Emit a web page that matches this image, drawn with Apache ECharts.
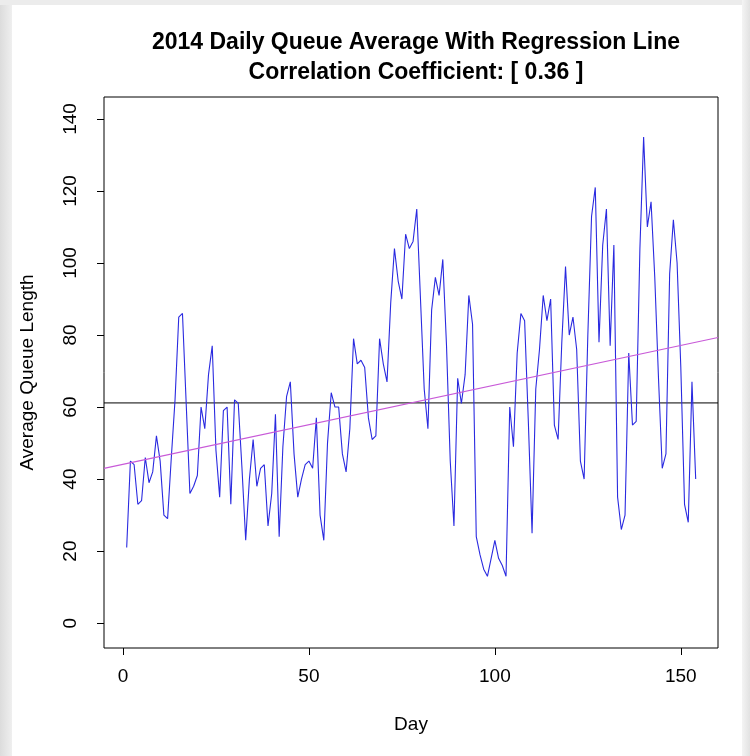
<!DOCTYPE html>
<html>
<head>
<meta charset="utf-8">
<script src="https://cdn.jsdelivr.net/npm/echarts@6/dist/echarts.min.js"></script>
<style>
html,body{margin:0;padding:0;background:#ffffff;}
#frameL{position:absolute;left:0;top:0;width:12px;height:756px;background:linear-gradient(to right,#dcdcdc,#efefef);}
#frameT{position:absolute;left:0;top:0;width:750px;height:5px;background:#ececec;}
#frameR{position:absolute;left:742px;top:0;width:8px;height:756px;background:linear-gradient(to right,#f4f4f4,#e2e2e2);}
#chart{position:absolute;left:0;top:0;width:750px;height:756px;}
</style>
</head>
<body>
<div id="frameL"></div><div id="frameT"></div><div id="frameR"></div>
<div id="chart"></div>
<script>
// Day index 1..154
const days = Array.from({length: 154}, (_, i) => i + 1);
// Daily queue averages
const queueAvg = [
  21,45,44,33,34,46,39,42,52,45,
  30,29,46,62,85,86,61,36,38,41,
  60,54,69,77,48,35,59,60,33,62,
  61,43,23,40,51,38,43,44,27,36,
  58,24,49,63,67,47,35,40,44,45,
  43,57,30,23,50,64,60,60,47,42,
  54,79,72,73,71,57,51,52,79,72,
  67,89,104,95,90,108,104,106,115,90,
  65,54,87,96,91,101,77,45,27,68,
  61,69,91,83,24,19,15,13,18,23,
  18,16,13,60,49,75,86,84,56,25,
  65,76,91,84,90,55,51,78,99,80,
  85,76,45,40,80,113,121,78,105,115,
  77,105,35,26,30,75,55,56,104,135,
  110,117,96,68,43,47,97,112,100,71,
  33,28,67,40
];
const xTicks = [0, 50, 100, 150];
const yTicks = [0, 20, 40, 60, 80, 100, 120, 140];
const titleLines = ['2014 Daily Queue Average With Regression Line', 'Correlation Coefficient: [ 0.36 ]'];

const X_MIN = -5.1, X_MAX = 160;
const Y_MIN = -6.9, Y_MAX = 146.1;

// least squares fit and mean
const n = days.length;
const mx = days.reduce((a,b)=>a+b,0)/n;
const my = queueAvg.reduce((a,b)=>a+b,0)/n;
let sxy = 0, sxx = 0;
for (let i = 0; i < n; i++) { sxy += (days[i]-mx)*(queueAvg[i]-my); sxx += (days[i]-mx)*(days[i]-mx); }
const slope = sxy / sxx;
const intercept = my - slope * mx;

const chart = echarts.init(document.getElementById('chart'), null, {renderer: 'canvas'});
const FONT = 'Liberation Sans, Arial, Helvetica, sans-serif';
chart.setOption({
  animation: false,
  backgroundColor: 'transparent',
  title: {
    text: titleLines.join('\n'),
    left: 411, top: 23, textAlign: 'center',
    textStyle: {fontFamily: FONT, fontSize: 23, fontWeight: 'bold', color: '#000', lineHeight: 30}
  },
  grid: {left: 104, right: 32, top: 97, bottom: 108, show: true, borderColor: '#000', borderWidth: 1, backgroundColor: 'transparent'},
  xAxis: {
    type: 'value', min: X_MIN, max: X_MAX,
    name: 'Day', nameLocation: 'middle', nameGap: 67,
    nameTextStyle: {fontFamily: FONT, fontSize: 19, color: '#000'},
    axisLine: {show: false, onZero: false},
    splitLine: {show: false},
    axisTick: {show: true, customValues: xTicks, length: 7, lineStyle: {color: '#000'}},
    axisLabel: {customValues: xTicks, margin: 19, fontFamily: FONT, fontSize: 19, color: '#000'}
  },
  yAxis: {
    type: 'value', min: Y_MIN, max: Y_MAX,
    name: 'Average Queue Length', nameLocation: 'middle', nameGap: 67,
    nameTextStyle: {fontFamily: FONT, fontSize: 19, color: '#000'},
    axisLine: {show: false, onZero: false},
    splitLine: {show: false},
    axisTick: {show: true, customValues: yTicks, length: 7, lineStyle: {color: '#000'}},
    axisLabel: {customValues: yTicks, rotate: 90, margin: 24, fontFamily: FONT, fontSize: 19, color: '#000'}
  },
  series: [
    {
      type: 'line', name: 'Queue', symbol: 'none',
      data: days.map((d, i) => [d, queueAvg[i]]),
      lineStyle: {color: '#2a2ae0', width: 1.1},
      z: 3
    },
    {
      type: 'line', name: 'Mean', symbol: 'none',
      data: [[X_MIN, my], [X_MAX, my]],
      lineStyle: {color: '#000', width: 1},
      z: 2
    },
    {
      type: 'line', name: 'Regression', symbol: 'none',
      data: [[X_MIN, intercept + slope * X_MIN], [X_MAX, intercept + slope * X_MAX]],
      lineStyle: {color: '#c85ad8', width: 1.2},
      z: 4
    }
  ]
});
</script>
</body>
</html>
